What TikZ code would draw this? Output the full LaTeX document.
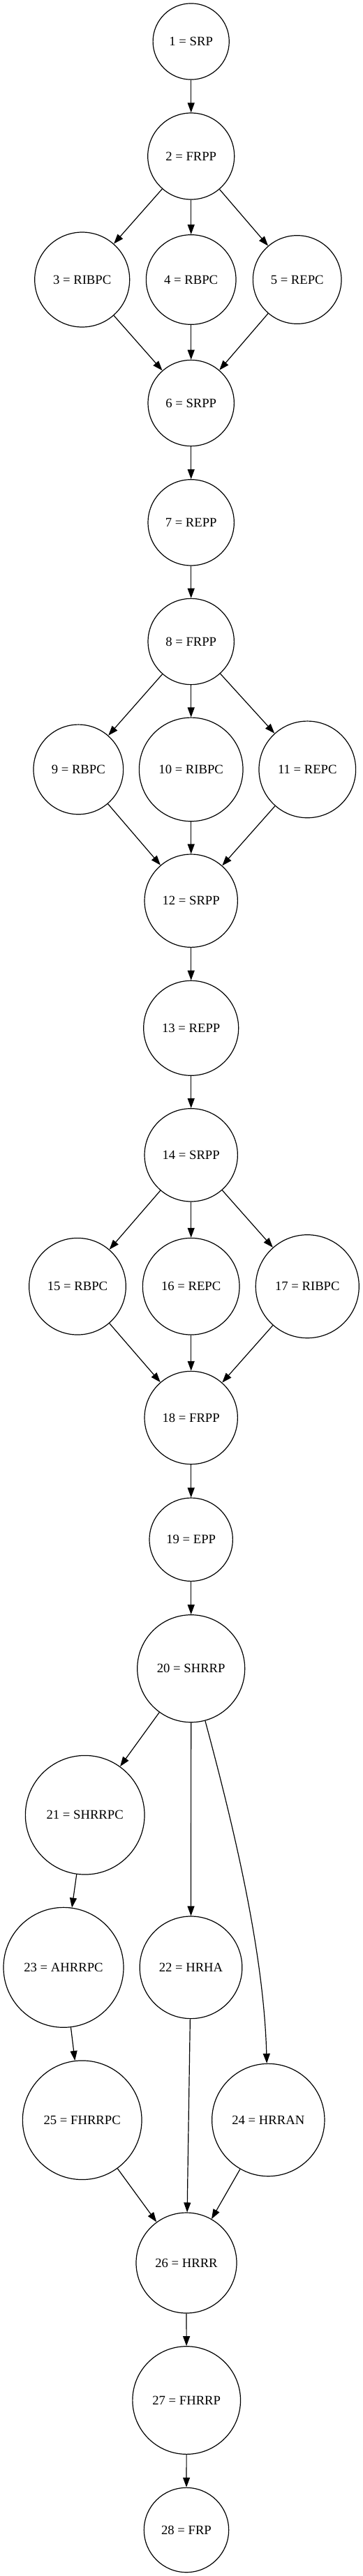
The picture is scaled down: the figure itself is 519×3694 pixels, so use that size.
\documentclass[tikz,border=0pt]{standalone}
\usepackage{fontspec}
\setmainfont{Liberation Serif}
\usetikzlibrary{arrows.meta}
\tikzset{
  stnode/.style={circle, draw, line width=0.9pt, inner sep=0pt, minimum size=#1, font=\fontsize{14}{16}\selectfont},
  edge/.style={line width=0.9pt, -{Triangle[length=10.5pt,width=7.5pt]}}
}
\begin{document}
\begin{tikzpicture}[x=0.75pt, y=-0.75pt]
\useasboundingbox (0,0) rectangle (519,3694);
\node[stnode=81.9pt] (n1) at (273.7,59.5) {1 = SRP};
\node[stnode=93pt] (n2) at (273.7,224) {2 = FRPP};
\node[stnode=102pt] (n3) at (117.7,401) {3 = RIBPC};
\node[stnode=96.5pt] (n4) at (273.7,401) {4 = RBPC};
\node[stnode=95pt] (n5) at (425.7,401) {5 = REPC};
\node[stnode=92.5pt] (n6) at (273.7,578) {6 = SRPP};
\node[stnode=92.5pt] (n7) at (273.7,749.3) {7 = REPP};
\node[stnode=92.5pt] (n8) at (273.7,920) {8 = FRPP};
\node[stnode=96.5pt] (n9) at (112.3,1103.4) {9 = RBPC};
\node[stnode=111.5pt] (n10) at (273.7,1103.4) {10 = RIBPC};
\node[stnode=104pt] (n11) at (440.3,1103.4) {11 = REPC};
\node[stnode=100pt] (n12) at (273.7,1291.7) {12 = SRPP};
\node[stnode=102pt] (n13) at (273.7,1474.3) {13 = REPP};
\node[stnode=100pt] (n14) at (273.7,1656.3) {14 = SRPP};
\node[stnode=104pt] (n15) at (111,1844.7) {15 = RBPC};
\node[stnode=104pt] (n16) at (273.7,1844.7) {16 = REPC};
\node[stnode=111pt] (n17) at (440.3,1844.7) {17 = RIBPC};
\node[stnode=100pt] (n18) at (273.7,2033) {18 = FRPP};
\node[stnode=89.5pt] (n19) at (273.7,2207.7) {19 = EPP};
\node[stnode=115.5pt] (n20) at (273.7,2392.7) {20 = SHRRP};
\node[stnode=128pt] (n21) at (121.7,2602.7) {21 = SHRRPC};
\node[stnode=110pt] (n22) at (273.5,2821.3) {22 = HRHA};
\node[stnode=129pt] (n23) at (91,2821.3) {23 = AHRRPC};
\node[stnode=121pt] (n24) at (384.3,3040) {24 = HRRAN};
\node[stnode=128pt] (n25) at (117.7,3040.2) {25 = FHRRPC};
\node[stnode=108pt] (n26) at (267,3245) {26 = HRRR};
\node[stnode=116pt] (n27) at (267.2,3442) {27 = FHRRP};
\node[stnode=91pt] (n28) at (267,3628) {28 = FRP};
\draw[edge] (n1) -- (n2);
\draw[edge] (n2) -- (n3);
\draw[edge] (n2) -- (n4);
\draw[edge] (n2) -- (n5);
\draw[edge] (n3) -- (n6);
\draw[edge] (n4) -- (n6);
\draw[edge] (n5) -- (n6);
\draw[edge] (n6) -- (n7);
\draw[edge] (n7) -- (n8);
\draw[edge] (n8) -- (n9);
\draw[edge] (n8) -- (n10);
\draw[edge] (n8) -- (n11);
\draw[edge] (n9) -- (n12);
\draw[edge] (n10) -- (n12);
\draw[edge] (n11) -- (n12);
\draw[edge] (n12) -- (n13);
\draw[edge] (n13) -- (n14);
\draw[edge] (n14) -- (n15);
\draw[edge] (n14) -- (n16);
\draw[edge] (n14) -- (n17);
\draw[edge] (n15) -- (n18);
\draw[edge] (n16) -- (n18);
\draw[edge] (n17) -- (n18);
\draw[edge] (n18) -- (n19);
\draw[edge] (n19) -- (n20);
\draw[edge] (n20) -- (n21);
\draw[edge] (n20) -- (n22);
\draw[edge] (n20) .. controls (335,2620) and (378,2800) .. (n24);
\draw[edge] (n21) -- (n23);
\draw[edge] (n23) -- (n25);
\draw[edge] (n22) -- (n26);
\draw[edge] (n25) -- (n26);
\draw[edge] (n24) -- (n26);
\draw[edge] (n26) -- (n27);
\draw[edge] (n27) -- (n28);
\end{tikzpicture}
\end{document}
